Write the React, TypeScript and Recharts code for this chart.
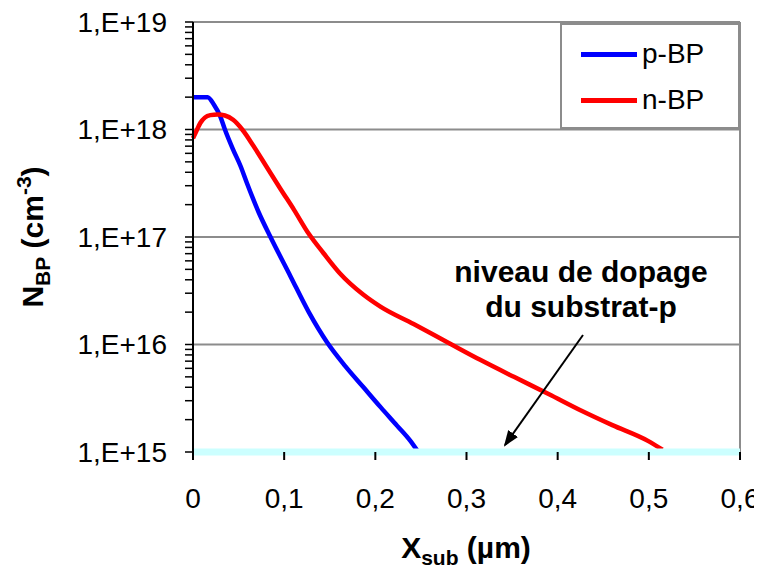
import { LineChart, Line, XAxis, YAxis, ReferenceLine, Legend } from "recharts";

// p-BP profile (x in µm, concentration in cm-3)
const pbpX = [0, 0.01, 0.016, 0.023, 0.03, 0.035, 0.044, 0.052, 0.059, 0.072, 0.085, 0.107, 0.127, 0.147, 0.167, 0.187, 0.206, 0.224, 0.238, 0.246];
const pbpY = [2.0e18, 2.0e18, 2.0e18, 1.7e18, 1.32e18, 1.0e18, 6.5e17, 4.6e17, 3.2e17, 1.7e17, 1.0e17, 4.3e16, 2.0e16, 1.05e16, 6.3e15, 4.0e15, 2.6e15, 1.75e15, 1.28e15, 1.03e15];

// n-BP profile
const nbpX = [0, 0.004, 0.008, 0.013, 0.019, 0.027, 0.035, 0.044, 0.054, 0.066, 0.08, 0.096, 0.111, 0.127, 0.143, 0.161, 0.187, 0.206, 0.242, 0.279, 0.315, 0.352, 0.39, 0.425, 0.46, 0.499, 0.515];
const nbpY = [8.3e17, 9.8e17, 1.15e18, 1.29e18, 1.36e18, 1.38e18, 1.35e18, 1.23e18, 1.0e18, 7.1e17, 4.6e17, 2.8e17, 1.78e17, 1.07e17, 7.1e16, 4.6e16, 2.9e16, 2.24e16, 1.55e16, 1.05e16, 7.2e15, 5.0e15, 3.47e15, 2.45e15, 1.78e15, 1.27e15, 1.05e15];

// substrate doping level
const substrateX = [0, 0.6];
const substrateY = [1e15, 1e15];

const xTicks = [0, 0.1, 0.2, 0.3, 0.4, 0.5, 0.6];
const decades = [15, 16, 17, 18, 19];
const legendOrder = ["p-BP", "n-BP"];

const pbp = pbpX.map((x, i) => ({ x, y: pbpY[i] }));
const nbp = nbpX.map((x, i) => ({ x, y: nbpY[i] }));
const substrate = substrateX.map((x, i) => ({ x, y: substrateY[i] }));

const yTicks: number[] = [];
decades.forEach((e) => {
  if (e === 19) {
    yTicks.push(1e19);
    return;
  }
  for (let m = 1; m <= 9; m++) yTicks.push(Number(`${m}e${e}`));
});

const font = "'Liberation Sans', Arial, sans-serif";

const fmtY = (v: number) => {
  const e = Math.log10(v);
  return Math.abs(e - Math.round(e)) < 1e-6 ? `1,E+${Math.round(e)}` : "";
};
const fmtX = (v: number) => (v === 0 ? "0" : v.toFixed(1).replace(".", ","));

const renderLegend = (props: any) => {
  const payload = props.payload || [];
  const items = legendOrder
    .map((name) => payload.find((p: any) => p.value === name))
    .filter(Boolean);
  return (
    <div
      style={{
        width: 180,
        height: 106,
        boxSizing: "border-box",
        border: "2px solid #8c8c8c",
        background: "#fff",
        position: "relative",
        fontFamily: font,
      }}
    >
      {items.map((p: any, i: number) => (
        <div key={p.value} style={{ position: "absolute", left: 19, top: 29 + i * 46 - 20, height: 40, display: "flex", alignItems: "center" }}>
          <span style={{ display: "inline-block", width: 56, height: 5, background: p.color }} />
          <span style={{ marginLeft: 5, fontSize: 28, color: "#000" }}>{p.value}</span>
        </div>
      ))}
    </div>
  );
};

export default function App() {
  return (
    <div style={{ position: "relative", width: 754, height: 561 }}>
      <LineChart width={754} height={561} margin={{ top: 14, right: 22, left: 10, bottom: 57 }}>
        <XAxis
          dataKey="x"
          type="number"
          domain={[0, 0.6]}
          ticks={xTicks}
          interval={0}
          tickFormatter={fmtX}
          axisLine={false}
          tickSize={8}
          tickMargin={28}
          height={60}
          tickLine={{ stroke: "#000", strokeWidth: 2 }}
          tick={{ fill: "#000", fontSize: 28, fontFamily: font }}
        />
        <YAxis
          dataKey="y"
          type="number"
          scale="log"
          domain={[1e15, 1e19]}
          ticks={yTicks}
          interval={0}
          tickFormatter={fmtY}
          width={175}
          tickSize={8}
          tickMargin={18}
          axisLine={{ stroke: "#000", strokeWidth: 2 }}
          tickLine={{ stroke: "#000", strokeWidth: 1.5 }}
          tick={{ fill: "#000", fontSize: 28, fontFamily: font }}
        />
        {decades.slice(1).map((e) => (
          <ReferenceLine key={e} y={Number(`1e${e}`)} stroke="#8c8c8c" strokeWidth={2} />
        ))}
        <ReferenceLine x={0.6} stroke="#8c8c8c" strokeWidth={2} />
        <Legend
          layout="vertical"
          align="center"
          verticalAlign="middle"
          content={renderLegend}
          wrapperStyle={{ left: 552, top: 15, width: 180, height: 106 }}
        />
        <Line data={pbp} dataKey="y" name="p-BP" type="monotone" stroke="#0000ff" strokeWidth={4.5} dot={false} isAnimationActive={false} />
        <Line data={nbp} dataKey="y" name="n-BP" type="monotone" stroke="#ff0000" strokeWidth={4.5} dot={false} isAnimationActive={false} />
        <Line data={substrate} dataKey="y" name="substrat" legendType="none" stroke="#ccffff" strokeWidth={7} dot={false} isAnimationActive={false} />
      </LineChart>
      <svg
        width={754}
        height={561}
        style={{ position: "absolute", left: 0, top: 0, pointerEvents: "none", overflow: "visible" }}
      >
        <defs>
          <marker id="arrowHead" markerWidth="8" markerHeight="6" refX="7" refY="3" orient="auto" markerUnits="strokeWidth">
            <path d="M0,0 L8,3 L0,6 Z" fill="#000" />
          </marker>
        </defs>
        <g fontFamily={font} fontWeight="bold" fill="#000">
          <text x={573} y={274} fontSize={30} textAnchor="middle">niveau de dopage</text>
          <text x={573} y={309} fontSize={30} textAnchor="middle">du substrat-p</text>
          <text x={458} y={550} fontSize={30} textAnchor="middle">
            X<tspan dy={7} fontSize={21}>sub</tspan>
            <tspan dy={-7}> (µm)</tspan>
          </text>
          <text transform="translate(35,229) rotate(-90)" x={0} y={0} fontSize={30} textAnchor="middle">
            N<tspan dy={7} fontSize={21}>BP</tspan>
            <tspan dy={-7}> (cm</tspan>
            <tspan dy={-12} fontSize={21}>-3</tspan>
            <tspan dy={12}>)</tspan>
          </text>
        </g>
        <line x1={575} y1={327} x2={497} y2={437} stroke="#000" strokeWidth={2} markerEnd="url(#arrowHead)" />
      </svg>
    </div>
  );
}
